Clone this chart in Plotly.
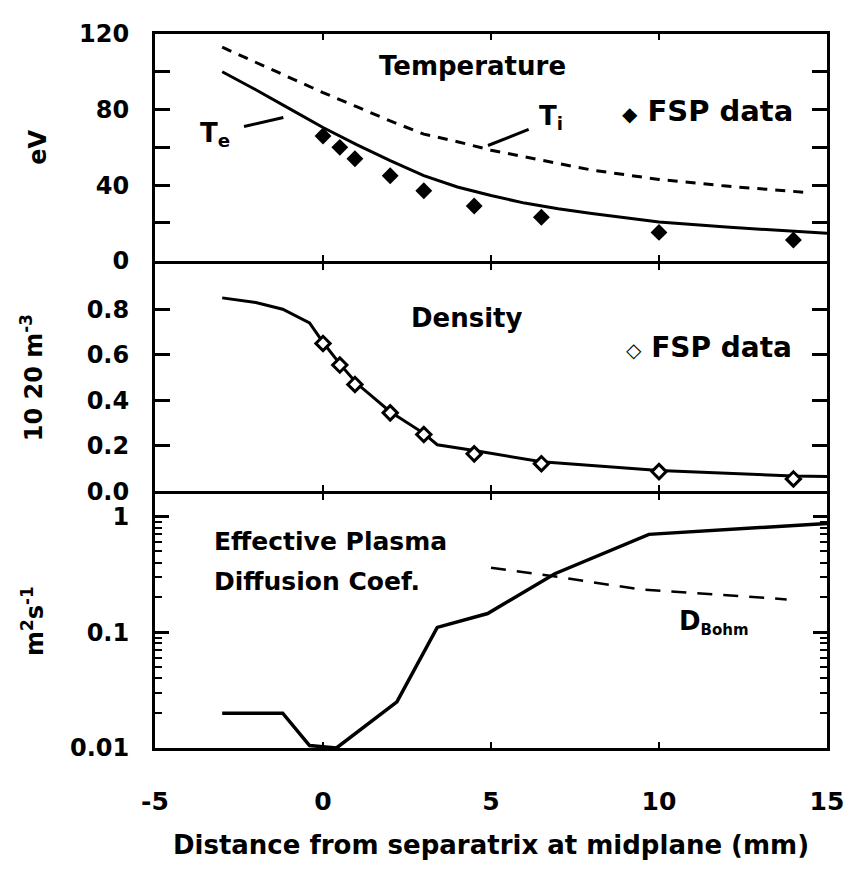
import plotly.graph_objects as go
from plotly.subplots import make_subplots

# ---------------- data ----------------
# Temperature panel (eV)
te_model_x = [-3, -2, -1, 0, 1, 2, 3, 4, 5, 6, 7, 8, 10, 12, 15]
te_model_y = [100, 90.5, 80.5, 70.5, 61.5, 53, 45, 39, 34.5, 30.5, 27.5, 25, 20.5, 17.8, 14.5]
ti_model_x = [-3, -2, -1, 0, 1, 2, 3, 4, 5, 6, 7, 8, 10, 12, 14.5]
ti_model_y = [113, 105, 97, 89, 81.5, 74, 67, 63, 58.5, 55, 51.5, 48, 43, 39.5, 36]
te_fsp_x = [0, 0.5, 0.95, 2, 3, 4.5, 6.5, 10, 14]
te_fsp_y = [66, 60, 54, 45, 37, 29, 23, 15, 11]

# Density panel (10^20 m^-3)
n_model_x = [-3, -2, -1.2, -0.4, 0, 0.5, 1, 2, 3, 3.4, 4.5, 6.5, 10, 14, 15]
n_model_y = [0.85, 0.83, 0.80, 0.74, 0.655, 0.56, 0.475, 0.35, 0.255, 0.205, 0.18, 0.13, 0.092, 0.068, 0.066]
n_fsp_x = [0, 0.5, 0.95, 2, 3, 4.5, 6.5, 10, 14]
n_fsp_y = [0.65, 0.555, 0.47, 0.345, 0.25, 0.165, 0.122, 0.087, 0.055]

# Diffusion coefficient panel (m^2 s^-1)
d_eff_x = [-3, -1.2, -0.4, 0.4, 2.2, 3.4, 4.9, 6.9, 9.7, 15]
d_eff_y = [0.02, 0.02, 0.0105, 0.01, 0.025, 0.11, 0.145, 0.32, 0.7, 0.87]
d_bohm_x = [5, 7, 9.4, 11.6, 13.8]
d_bohm_y = [0.36, 0.30, 0.235, 0.213, 0.192]

x_tickvals = [-5, 0, 5, 10, 15]
x_ticktext = ["-5", "0", "5", "10", "15"]
t_tickvals = [0, 40, 80, 120]
t_minorvals = [20, 60, 100]
n_tickvals = [0, 0.2, 0.4, 0.6, 0.8]
n_ticktext = ["0.0", "0.2", "0.4", "0.6", "0.8"]
d_tickvals = [0.01, 0.1, 1]
d_ticktext = ["0.01", "0.1", "1"]
d_minorvals = [0.02, 0.03, 0.04, 0.05, 0.06, 0.07, 0.08, 0.09,
               0.2, 0.3, 0.4, 0.5, 0.6, 0.7, 0.8, 0.9]

# ---------------- figure ----------------
fig = make_subplots(rows=3, cols=1, shared_xaxes=True, vertical_spacing=0)

BLK = "black"
fig.add_trace(go.Scatter(x=te_model_x, y=te_model_y, mode="lines",
                         line=dict(color=BLK, width=3), name="Te"), row=1, col=1)
fig.add_trace(go.Scatter(x=ti_model_x, y=ti_model_y, mode="lines",
                         line=dict(color=BLK, width=3, dash="10px,8px"), name="Ti"), row=1, col=1)
fig.add_trace(go.Scatter(x=te_fsp_x, y=te_fsp_y, mode="markers",
                         marker=dict(symbol="diamond", size=13, color=BLK),
                         name="FSP data"), row=1, col=1)

fig.add_trace(go.Scatter(x=n_model_x, y=n_model_y, mode="lines",
                         line=dict(color=BLK, width=3), name="density"), row=2, col=1)
fig.add_trace(go.Scatter(x=n_fsp_x, y=n_fsp_y, mode="markers",
                         marker=dict(symbol="diamond", size=11, color="white",
                                     line=dict(color=BLK, width=3)),
                         name="FSP data"), row=2, col=1)

fig.add_trace(go.Scatter(x=d_eff_x, y=d_eff_y, mode="lines",
                         line=dict(color=BLK, width=3.5), name="D"), row=3, col=1)
fig.add_trace(go.Scatter(x=d_bohm_x, y=d_bohm_y, mode="lines",
                         line=dict(color=BLK, width=2.5, dash="15px,11px"), name="DBohm"), row=3, col=1)
# empty trace so the overlaid minor-tick axis is drawn
fig.add_trace(go.Scatter(x=[], y=[], mode="lines", xaxis="x3", yaxis="y4",
                         hoverinfo="skip", showlegend=False))

axis_common = dict(showline=True, linewidth=3, linecolor=BLK, mirror="ticks",
                   showgrid=False, zeroline=False, ticks="inside", tickcolor=BLK)

for r in (1, 2, 3):
    fig.update_xaxes(range=[-5, 15], tickmode="array", tickvals=x_tickvals, ticktext=x_ticktext,
                     ticklen=6, tickwidth=2, row=r, col=1, **axis_common)

fig.update_xaxes(showticklabels=True, tickfont=dict(size=25), ticklabelstandoff=29,
                 title=dict(text="Distance from separatrix at midplane (mm)",
                            font=dict(size=26), standoff=21),
                 row=3, col=1)

# domains: a 3 px gap so the shared border lines coincide
H = 718.0
dom1 = [(H - 228) / H, 1.0]
dom2 = [(H - 460) / H, (H - 231) / H]
dom3 = [0.0, (H - 463) / H]
fig.update_yaxes(domain=dom1, row=1, col=1)
fig.update_yaxes(domain=dom2, row=2, col=1)
fig.update_yaxes(domain=dom3, row=3, col=1)

fig.update_yaxes(range=[0, 120], tickmode="array", tickvals=t_tickvals,
                 ticklen=15, tickwidth=3, tickfont=dict(size=24), ticklabelstandoff=18,
                 minor=dict(ticks="inside", ticklen=15, tickwidth=3, tickcolor=BLK,
                            tickmode="array", tickvals=t_minorvals, showgrid=False),
                 title=dict(text="eV", font=dict(size=24), standoff=26),
                 row=1, col=1, **axis_common)
fig.update_yaxes(range=[0, 1.0], tickmode="array", tickvals=n_tickvals, ticktext=n_ticktext,
                 ticklen=15, tickwidth=3, tickfont=dict(size=24), ticklabelstandoff=18,
                 title=dict(text="10 20 m<sup>-3</sup>", font=dict(size=24), standoff=38),
                 row=2, col=1, **axis_common)
fig.update_yaxes(type="log", range=[-2, 0.19], tickmode="array", tickvals=d_tickvals,
                 ticktext=d_ticktext,
                 ticklen=14, tickwidth=3, tickfont=dict(size=24), ticklabelstandoff=18,
                 title=dict(text="m<sup>2</sup>s<sup>-1</sup>", font=dict(size=24), standoff=20),
                 row=3, col=1, **axis_common)

# overlaid axis carrying the log minor ticks (2..9 of each decade)
fig.update_layout(yaxis4=dict(type="log", range=[-2, 0.19], overlaying="y3", anchor="x3",
                              side="left", tickmode="array", tickvals=d_minorvals,
                              ticks="inside", ticklen=7, tickwidth=2, tickcolor=BLK,
                              mirror="ticks", showline=False, showgrid=False, zeroline=False,
                              showticklabels=False))

annos = [
    dict(text="Temperature", x=4.45, y=103, xref="x", yref="y", showarrow=False,
         font=dict(size=26)),
    dict(text="T<sub>e</sub>", x=-3.2, y=67, xref="x", yref="y", showarrow=False,
         font=dict(size=26)),
    dict(text="T<sub>i</sub>", x=6.8, y=76, xref="x", yref="y", showarrow=False,
         font=dict(size=26)),
    dict(text="<span style='font-size:20px'>◆</span> FSP data", x=8.85, y=79.5,
         xref="x", yref="y", xanchor="left", showarrow=False, font=dict(size=29)),
    dict(text="Density", x=4.3, y=0.76, xref="x2", yref="y2", showarrow=False,
         font=dict(size=26)),
    dict(text="<span style='font-size:20px'>◇</span> FSP data", x=8.95, y=0.63,
         xref="x2", yref="y2", xanchor="left", showarrow=False, font=dict(size=28)),
    dict(text="Effective Plasma", x=-3.3, y=-0.216, xref="x3", yref="y3",
         xanchor="left", showarrow=False, font=dict(size=25)),
    dict(text="Diffusion Coef.", x=-3.3, y=-0.56, xref="x3", yref="y3",
         xanchor="left", showarrow=False, font=dict(size=25)),
    dict(text="D<sub><span style='font-size:15px'>Bohm</span></sub>", x=10.55, y=-0.915,
         xref="x3", yref="y3", xanchor="left", showarrow=False, font=dict(size=26)),
]
fig.update_layout(annotations=annos)

# pointer lines for Te / Ti labels
fig.add_shape(type="line", x0=-2.35, y0=71, x1=-1.18, y1=75.8, xref="x", yref="y",
              line=dict(color=BLK, width=3))
fig.add_shape(type="line", x0=4.91, y0=61, x1=6.12, y1=69.5, xref="x", yref="y",
              line=dict(color=BLK, width=3))

fig.update_layout(
    width=848, height=862,
    margin=dict(l=147, r=22, t=22, b=122),
    paper_bgcolor="white", plot_bgcolor="white",
    showlegend=False,
    font=dict(family="DejaVu Sans", color=BLK, size=24, weight="bold"),
)

fig.write_html("out.html")
